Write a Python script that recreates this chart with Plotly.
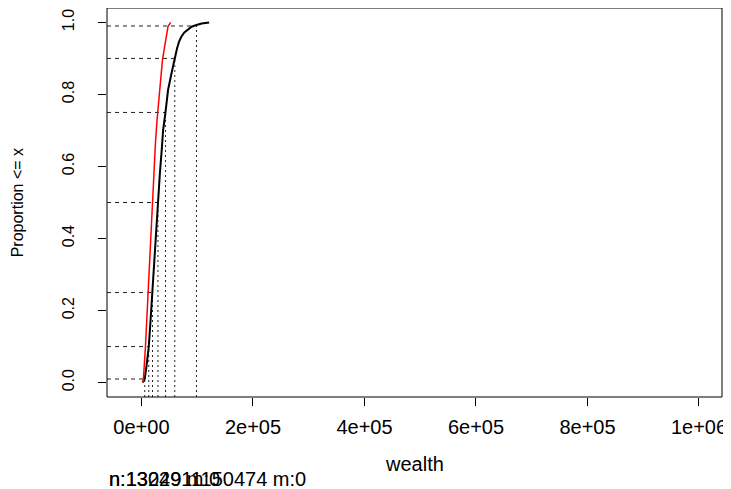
import plotly.graph_objects as go

# ---- data ----
black_x = [2000, 4000, 5900, 9000, 13100, 16200, 19400, 24000, 29300, 33000, 36400,
           38800, 43100, 47800, 53900, 59800, 63900, 67500, 71800, 77000, 83700,
           90000, 98700, 108000, 121400]
black_p = [0.0, 0.004, 0.01, 0.045, 0.10, 0.17, 0.25, 0.38, 0.50, 0.58, 0.647,
           0.70, 0.75, 0.813, 0.859, 0.905, 0.928, 0.947, 0.961, 0.972, 0.981,
           0.988, 0.993, 0.997, 1.0]

red_x = [2900, 3500, 7200, 11800, 19000, 25100, 28000, 31600, 34600, 37700,
         40600, 44900, 47700, 52600]
red_p = [0.0, 0.01, 0.10, 0.25, 0.50, 0.665, 0.73, 0.795, 0.85, 0.896,
         0.924, 0.961, 0.989, 1.0]

quant_p = [0.01, 0.10, 0.25, 0.50, 0.75, 0.90, 0.99]
quant_x = [5900, 13100, 19800, 29600, 43100, 59800, 98700]

x_ticks = [0, 200000, 400000, 600000, 800000, 1000000]
x_labels = ["0e+00", "2e+05", "4e+05", "6e+05", "8e+05", "1e+06"]
y_ticks = [0.0, 0.2, 0.4, 0.6, 0.8, 1.0]
y_labels = ["0.0", "0.2", "0.4", "0.6", "0.8", "1.0"]

subtitles = ["n:13249 m:0", "n:1302911150474 m:0"]

X_RANGE = [-61800, 1041300]
Y_RANGE = [-0.04, 1.04]
FONT = "Liberation Sans, Arial, sans-serif"

fig = go.Figure()

# horizontal dashed reference lines
for qp, qx in zip(quant_p, quant_x):
    fig.add_trace(go.Scatter(x=[X_RANGE[0], qx], y=[qp, qp], mode="lines",
                             line=dict(color="#222", width=1, dash="4px,4px"),
                             hoverinfo="skip", showlegend=False))
# vertical dotted reference lines
for qp, qx in zip(quant_p, quant_x):
    fig.add_trace(go.Scatter(x=[qx, qx], y=[Y_RANGE[0], qp], mode="lines",
                             line=dict(color="#222", width=1, dash="2px,3px"),
                             hoverinfo="skip", showlegend=False))

fig.add_trace(go.Scatter(x=black_x, y=black_p, mode="lines",
                         line=dict(color="black", width=2),
                         showlegend=False))
fig.add_trace(go.Scatter(x=red_x, y=red_p, mode="lines",
                         line=dict(color="red", width=1.5),
                         showlegend=False))

axis_common = dict(showgrid=False, zeroline=False, showline=False,
                   ticks="outside", ticklen=8, tickcolor="black", tickwidth=1,
                   tickmode="array", automargin=False)

fig.update_xaxes(range=X_RANGE, tickvals=x_ticks, ticktext=x_labels,
                 tickfont=dict(family=FONT, size=20, color="black"),
                 ticklabelstandoff=4, **axis_common)
fig.update_yaxes(range=Y_RANGE, tickvals=y_ticks, ticktext=y_labels,
                 tickangle=-90,
                 tickfont=dict(family=FONT, size=16, color="black"),
                 ticklabelstandoff=18, **axis_common)

fig.add_shape(type="rect", xref="paper", yref="paper", x0=0, y0=0, x1=1, y1=1,
              line=dict(color="black", width=1))

fig.add_annotation(text="wealth", xref="paper", yref="paper", x=0.5, y=-0.172,
                   xanchor="center", yanchor="middle", showarrow=False,
                   font=dict(family=FONT, size=20, color="black"))
fig.add_annotation(text="Proportion <= x", xref="paper", yref="paper", x=-0.145, y=0.5,
                   xanchor="center", yanchor="middle", textangle=-90, showarrow=False,
                   font=dict(family=FONT, size=16, color="black"))
for s in subtitles:
    fig.add_annotation(text=s, xref="paper", yref="paper", x=0.0, y=-0.211,
                       xanchor="left", yanchor="middle", showarrow=False,
                       font=dict(family=FONT, size=20, color="black"))

# page body has an 8px margin, so the figure is sized/margined to compensate
fig.update_layout(width=723, height=481,
                  margin=dict(l=99, r=9, t=0, b=92, autoexpand=False),
                  plot_bgcolor="white", paper_bgcolor="white",
                  showlegend=False)

fig.write_html("out.html")
